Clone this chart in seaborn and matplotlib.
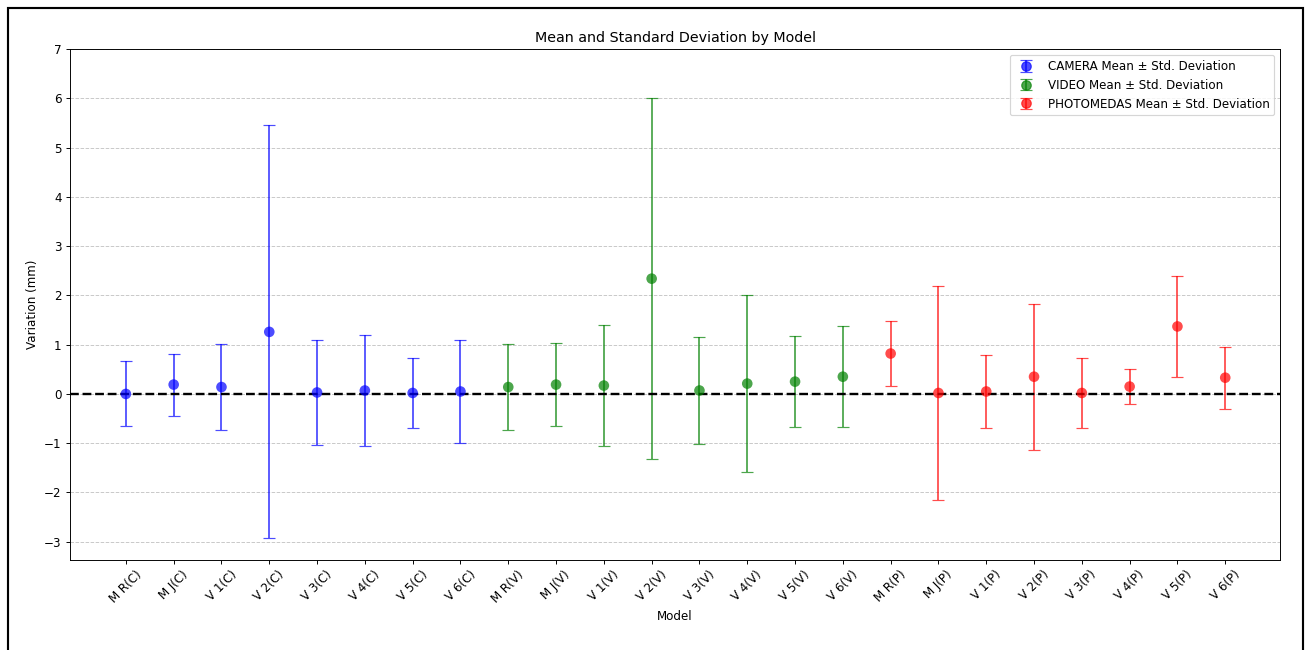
# Mean and standard deviation per model, three measurement methods
import numpy as np
import pandas as pd
import seaborn as sns
import matplotlib.pyplot as plt
from matplotlib.patches import Rectangle

models = ["M R", "M J", "V 1", "V 2", "V 3", "V 4", "V 5", "V 6"]
groups = ["CAMERA", "VIDEO", "PHOTOMEDAS"]
suffix = {"CAMERA": "C", "VIDEO": "V", "PHOTOMEDAS": "P"}
colors = {"CAMERA": "blue", "VIDEO": "green", "PHOTOMEDAS": "red"}

camera_mean = [0.00, 0.19, 0.14, 1.26, 0.03, 0.07, 0.02, 0.05]
camera_std = [0.66, 0.63, 0.88, 4.19, 1.07, 1.12, 0.71, 1.04]
video_mean = [0.14, 0.19, 0.17, 2.34, 0.07, 0.21, 0.25, 0.35]
video_std = [0.88, 0.84, 1.22, 3.66, 1.08, 1.80, 0.93, 1.02]
photo_mean = [0.82, 0.02, 0.05, 0.35, 0.02, 0.15, 1.37, 0.33]
photo_std = [0.66, 2.17, 0.74, 1.48, 0.71, 0.36, 1.02, 0.63]

means = {"CAMERA": camera_mean, "VIDEO": video_mean, "PHOTOMEDAS": photo_mean}
stds = {"CAMERA": camera_std, "VIDEO": video_std, "PHOTOMEDAS": photo_std}

rows = []
for g in groups:
    for m, mu, sd in zip(models, means[g], stds[g]):
        rows.append({"label": f"{m}({suffix[g]})", "group": g, "mean": mu, "std": sd})
df = pd.DataFrame(rows)
df["pos"] = np.arange(len(df))

# original was drawn larger and scaled down, so use a lower dpi
DPI = 85.4
fig = plt.figure(figsize=(1305 / DPI, 650 / DPI), dpi=DPI)
ax = fig.add_axes([0.0536, 0.1385, 0.9274, 0.786])

# error bars (lines and caps)
for g in groups:
    sub = df[df["group"] == g]
    ax.errorbar(sub["pos"], sub["mean"], yerr=sub["std"], fmt="none",
                ecolor=colors[g], alpha=0.7, capsize=5, elinewidth=1.5)
    # placeholder handle so the legend shows marker + bar
    ax.errorbar([np.nan], [np.nan], yerr=[1.0], fmt="o", color=colors[g], alpha=0.7,
                markersize=8, capsize=5, label=f"{g} Mean ± Std. Deviation")

sns.scatterplot(data=df, x="pos", y="mean", hue="group", palette=colors,
                s=80, alpha=0.7, edgecolor="none", legend=False, ax=ax, zorder=3)

ax.axhline(0, color="black", linestyle="--", linewidth=2)
ax.grid(axis="y", linestyle="--", alpha=0.7)
ax.set_axisbelow(True)

ax.set_xticks(df["pos"])
ax.set_xticklabels(df["label"], rotation=45)
ax.set_yticks(range(-3, 8))
ax.set_xlim(-1.17, 24.15)
ax.set_ylim(-3.37, 7)
ax.set_title("Mean and Standard Deviation by Model")
ax.set_xlabel("Model")
ax.set_ylabel("Variation (mm)")
ax.legend(loc="upper right")

# frame around the figure
fig.patches.append(Rectangle((8 / 1305, -0.1), 1295 / 1305, 1.1 - 8.5 / 650,
                             transform=fig.transFigure, fill=False,
                             edgecolor="black", linewidth=1.8))

fig.savefig("out.png", dpi=DPI)
